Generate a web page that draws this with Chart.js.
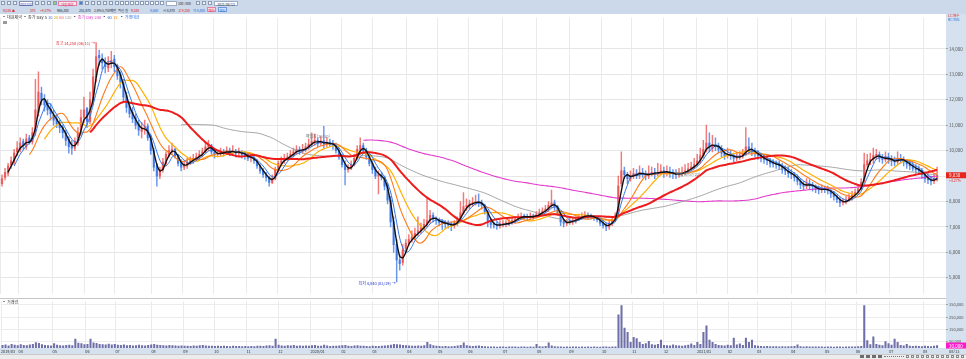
<!DOCTYPE html>
<html lang="ko">
<head>
<meta charset="utf-8">
<title>대원제약 일봉 차트</title>
<script src="https://cdn.jsdelivr.net/npm/chart.js@4.4.1/dist/chart.umd.min.js"></script>
<style>
  html, body { margin: 0; padding: 0; background: #fff; }
  body { position: relative; width: 966px; height: 359px; overflow: hidden;
         font-family: "Noto Sans CJK KR", "Noto Sans", sans-serif; font-size: 4px; line-height: 5px; color: #333; }
  .a { position: absolute; white-space: nowrap; }
  .r2 { font-size: 3.4px; letter-spacing: -0.1px; }
  .ic { position: absolute; top: 1px; width: 4px; height: 4px; border: 1px solid #8a9bb3; background: #eef3f9; box-sizing: border-box; }
  .bx { position: absolute; height: 5px; font-size: 3.4px; line-height: 5px; text-align: center; box-sizing: border-box; }
  #bar { left: 0; top: 0; width: 966px; height: 14px; background: #cbd9ea; }
  #axisPanel { left: 946px; top: 14px; width: 20px; height: 340px; background: #d5e1ee; }
  #band { left: 0; top: 348px; width: 946px; height: 6px; background: #d5e1ee; }
  #scroll { left: 0; top: 354px; width: 966px; height: 5px; background: #ececec; border-top: 1px solid #c9c9c9; box-sizing: border-box; }
  #sep { left: 0; top: 298px; width: 946px; height: 1px; background: #c6c6c6; }
  canvas { position: absolute; left: 0; }
  #priceChart { top: 14px; }
  #volChart { top: 298px; }
</style>
</head>
<body>
<div class="a" id="bar"></div>
<div class="a" id="axisPanel"></div>
<div class="a" id="band"></div>
<div class="a" id="sep"></div>
<div class="a" id="scroll"></div>
<canvas id="priceChart" width="966" height="284"></canvas>
<canvas id="volChart" width="966" height="56"></canvas>

<div class="a" style="left:2px;top:14.5px;">▪ 대원제약 ▪ 종가 Day 5 <span style="color:#2c6fe0">10</span> <span style="color:#e6a800">20</span> <span style="color:#f05a5a">60</span> <span style="color:#999">120</span> ▪ <span style="color:#e040c8">종가 Day 240</span> ▪ <span style="color:#2c6fe0">60</span> <span style="color:#ff8a00">15</span> &nbsp;▪ <span style="color:#2c6fe0">거래대금</span></div>
<div class="a" style="left:3px;top:21px;width:4px;height:3px;background:#9a9a9a;"></div>
<div class="a" style="left:948px;top:14px;font-size:3.5px;line-height:4px;color:#e0242a;">LC:매수</div>
<div class="a" style="left:948px;top:18px;font-size:3.5px;line-height:4px;color:#2c6fe0;">RC:매도</div>
<div class="a" style="left:2px;top:300px;">▪ 거래량</div>
<div class="a" style="left:949px;top:348.5px;">08/13</div>

<script>
// price pane: 2-trading-day bars, 2019/03 ~ 2021/08
const OPEN = [
  8700, 8950, 9100, 9450, 9550, 9950, 10050, 10350, 10150, 10500,
  10350, 10750, 11500, 12250, 12000, 11850, 11650, 11400, 11250, 11100,
  10900, 10700, 10450, 10200, 10100, 10300, 10750, 11300, 11650, 11150,
  11950, 12900, 13750, 13600, 13450, 13250, 13450, 13600, 13350, 13000,
  12650, 12150, 11750, 11500, 11300, 11050, 10750, 10900, 10950, 10550,
  10000, 9400, 9000, 9250, 9500, 9850, 10000, 10050, 9800, 9550,
  9350, 9400, 9550, 9600, 9700, 9750, 9850, 9950, 10150, 10200,
  9950, 9850, 9880, 9950, 9900, 10000, 9930, 9980, 9900, 9950,
  9850, 9800, 9700, 9720, 9600, 9400, 9200, 9050, 8950, 8750,
  8900, 9250, 9500, 9600, 9700, 9750, 9850, 9950, 10050, 9980,
  10050, 10150, 10250, 10350, 10400, 10280, 10380, 10250, 10300, 10280,
  10200, 10000, 9750, 9450, 9250, 9300, 9450, 9700, 10050, 10200,
  10000, 9750, 9500, 9250, 9000, 9050, 8950, 8600, 8050, 7200,
  6300, 5700, 5600, 6150, 6350, 6500, 6600, 6750, 6850, 6950,
  7100, 7250, 7450, 7300, 7250, 7180, 7150, 7120, 7080, 7050,
  7150, 7300, 7550, 7800, 7850, 7920, 7950, 8000, 7950, 7850,
  7600, 7250, 7100, 7080, 7050, 7100, 7120, 7130, 7150, 7250,
  7300, 7380, 7420, 7400, 7380, 7420, 7400, 7480, 7550, 7620,
  7700, 7850, 7950, 7800, 7550, 7200, 7150, 7180, 7220, 7250,
  7300, 7380, 7420, 7450, 7430, 7400, 7350, 7280, 7150, 7050,
  7000, 7150, 7300, 7500, 8700, 9200, 9050, 8900, 9000, 9100,
  9050, 9150, 9080, 9000, 9100, 9150, 9080, 9150, 9200, 9120,
  9180, 9100, 9080, 9050, 9100, 9130, 9200, 9280, 9350, 9450,
  9600, 9800, 10050, 10300, 10100, 10250, 10200, 10050, 9900, 9800,
  9850, 9800, 9700, 9750, 9800, 9850, 10150, 10050, 9950, 9900,
  9800, 9700, 9650, 9600, 9500, 9480, 9450, 9400, 9250, 9200,
  9100, 9050, 8950, 8800, 8650, 8600, 8700, 8650, 8580, 8480,
  8450, 8500, 8480, 8420, 8300, 8200, 8080, 7950, 7980, 8050,
  8150, 8250, 8350, 8500, 8800, 9450, 9600, 9650, 9800, 9850,
  9700, 9650, 9750, 9650, 9580, 9550, 9700, 9650, 9550, 9480,
  9400, 9300, 9250, 9200, 9050, 8900, 8850, 8800, 8870
];
const HIGH = [
  9050, 9300, 9500, 9750, 10050, 10350, 10500, 10450, 10650, 10600,
  10900, 12800, 13100, 12500, 12200, 12000, 11850, 11600, 11400, 11200,
  11000, 10800, 10550, 10400, 10500, 10900, 11600, 12100, 11700, 12300,
  13200, 14250, 13950, 13800, 13650, 13700, 13900, 13750, 13400, 13100,
  12800, 12300, 11900, 11700, 11450, 11200, 11100, 11200, 11050, 10600,
  10100, 9500, 9350, 9700, 9950, 10200, 10300, 10100, 9850, 9650,
  9600, 9700, 9750, 9850, 9900, 10000, 10100, 10350, 10400, 10250,
  10050, 10000, 10100, 10050, 10150, 10100, 10200, 10050, 10100, 10000,
  9950, 9900, 9850, 9800, 9650, 9450, 9300, 9150, 9000, 9050,
  9350, 9600, 9750, 9850, 9900, 10000, 10100, 10200, 10150, 10250,
  10300, 10450, 10700, 10650, 10500, 10550, 10950, 10500, 10450, 10400,
  10300, 10100, 9850, 9600, 9450, 9600, 9850, 10200, 10500, 10300,
  10100, 9850, 9600, 9350, 9200, 9150, 9000, 8700, 8200, 7400,
  6500, 5900, 6300, 6500, 6700, 6850, 6950, 7400, 7150, 7300,
  8100, 7650, 7550, 7400, 7350, 7300, 7250, 7250, 7200, 7250,
  7400, 8000, 8350, 8100, 8050, 8150, 8250, 8300, 8050, 7900,
  7650, 7350, 7200, 7200, 7250, 7250, 7250, 7300, 7350, 7400,
  7500, 7550, 7500, 7500, 7550, 7500, 7600, 7700, 7750, 7850,
  8000, 8450, 8050, 7850, 7600, 7300, 7300, 7350, 7350, 7400,
  7500, 7550, 7600, 7550, 7500, 7450, 7400, 7350, 7250, 7150,
  7250, 7400, 7550, 9000, 9950, 9350, 9150, 9200, 9300, 9250,
  9400, 9300, 9200, 9400, 9350, 9300, 9500, 9450, 9350, 9400,
  9350, 9250, 9250, 9300, 9350, 9450, 9500, 9550, 9700, 9850,
  10100, 10400, 11000, 10700, 10600, 10500, 10300, 10200, 10050, 10100,
  10000, 9900, 9900, 9950, 10050, 10900, 10500, 10300, 10100, 10000,
  9900, 9850, 9800, 9700, 9650, 9600, 9600, 9500, 9400, 9350,
  9250, 9150, 9050, 8900, 8800, 8900, 8850, 8750, 8650, 8600,
  8650, 8600, 8600, 8500, 8400, 8250, 8150, 8100, 8200, 8300,
  8400, 8500, 8650, 8900, 9900, 9850, 9900, 10100, 10050, 9950,
  9850, 9950, 9900, 9800, 9750, 9950, 9850, 9750, 9650, 9600,
  9550, 9450, 9400, 9300, 9150, 9050, 9000, 9100, 9350
];
const LOW = [
  8600, 8850, 9000, 9300, 9450, 9800, 9950, 10050, 10050, 10250,
  10250, 10600, 11350, 11800, 11550, 11400, 11200, 11000, 10900, 10700,
  10500, 10200, 9900, 9850, 10000, 10200, 10600, 11100, 10900, 11050,
  11800, 12700, 13350, 13200, 13050, 13100, 13250, 13100, 12800, 12450,
  11950, 11500, 11300, 11100, 10850, 10600, 10500, 10650, 10400, 9850,
  9200, 8600, 8900, 9150, 9400, 9750, 9850, 9700, 9400, 9200,
  9250, 9300, 9450, 9500, 9600, 9650, 9750, 9900, 10000, 9850,
  9700, 9750, 9800, 9780, 9850, 9800, 9850, 9750, 9800, 9700,
  9650, 9600, 9550, 9500, 9300, 9100, 8950, 8800, 8600, 8700,
  8850, 9150, 9400, 9500, 9600, 9650, 9750, 9850, 9850, 9900,
  9950, 10050, 10150, 10200, 10150, 10200, 10100, 10150, 10150, 10050,
  9900, 9650, 9350, 8650, 9150, 9250, 9400, 9650, 9950, 9900,
  9650, 9400, 9100, 8900, 8300, 8850, 8450, 7900, 7000, 6000,
  4840, 5300, 5500, 6000, 6250, 6400, 6500, 6650, 6750, 6900,
  7000, 7150, 7200, 7100, 7050, 6900, 6950, 6950, 6850, 6950,
  7050, 7250, 7500, 7650, 7700, 7800, 7850, 7800, 7700, 7500,
  7000, 6950, 6950, 6900, 6950, 7000, 7000, 7050, 7100, 7150,
  7250, 7300, 7300, 7280, 7300, 7300, 7350, 7400, 7450, 7550,
  7600, 7750, 7650, 7450, 7050, 7000, 7050, 7100, 7100, 7150,
  7250, 7300, 7350, 7300, 7300, 7250, 7200, 7050, 6950, 6850,
  6900, 7050, 7250, 7450, 8600, 8900, 8700, 8800, 8900, 8900,
  8900, 8950, 8850, 8900, 9000, 8900, 9000, 9050, 8950, 9000,
  8950, 8900, 8900, 8950, 9000, 9050, 9100, 9200, 9300, 9400,
  9500, 9700, 9950, 9950, 9950, 10000, 9900, 9750, 9650, 9700,
  9650, 9550, 9600, 9650, 9700, 9800, 9900, 9800, 9750, 9650,
  9550, 9500, 9450, 9350, 9350, 9300, 9250, 9100, 9050, 8950,
  8900, 8800, 8650, 8500, 8450, 8500, 8500, 8400, 8350, 8300,
  8350, 8350, 8300, 8150, 8050, 7950, 7800, 7850, 7900, 8000,
  8050, 8150, 8300, 8450, 8750, 9350, 9450, 9500, 9650, 9550,
  9500, 9550, 9500, 9400, 9400, 9450, 9500, 9400, 9300, 9250,
  9200, 9100, 9050, 8900, 8750, 8700, 8650, 8700, 8800
];
const CLOSE = [
  8900, 9150, 9400, 9600, 9900, 10100, 10300, 10200, 10450, 10350,
  10700, 11600, 12300, 12000, 11800, 11600, 11450, 11200, 11050, 10900,
  10700, 10400, 10150, 10100, 10350, 10700, 11300, 11600, 11150, 12000,
  12900, 13700, 13650, 13450, 13300, 13450, 13550, 13300, 12950, 12700,
  12100, 11700, 11450, 11250, 11000, 10800, 10850, 10900, 10500, 10000,
  9350, 9000, 9250, 9550, 9850, 10000, 10050, 9800, 9500, 9350,
  9450, 9550, 9600, 9700, 9750, 9850, 9950, 10150, 10200, 9950,
  9830, 9880, 9950, 9900, 10000, 9930, 9980, 9900, 9950, 9850,
  9800, 9700, 9720, 9600, 9400, 9200, 9050, 8950, 8750, 8900,
  9250, 9500, 9600, 9700, 9750, 9850, 9950, 10050, 9980, 10050,
  10150, 10250, 10350, 10400, 10280, 10380, 10250, 10300, 10280, 10200,
  10000, 9750, 9450, 9250, 9300, 9450, 9700, 10050, 10200, 10000,
  9750, 9500, 9250, 9000, 9050, 8950, 8600, 8050, 7200, 6300,
  5700, 5550, 6100, 6350, 6500, 6600, 6750, 6850, 6950, 7100,
  7250, 7450, 7300, 7250, 7180, 7150, 7120, 7080, 7050, 7150,
  7300, 7550, 7800, 7850, 7920, 7950, 8000, 7950, 7850, 7600,
  7250, 7100, 7080, 7050, 7100, 7120, 7130, 7150, 7250, 7300,
  7380, 7420, 7400, 7380, 7420, 7400, 7480, 7550, 7620, 7700,
  7850, 7950, 7800, 7550, 7200, 7150, 7180, 7220, 7250, 7300,
  7380, 7420, 7450, 7430, 7400, 7350, 7280, 7150, 7050, 7000,
  7150, 7300, 7450, 8600, 9200, 9050, 8900, 9000, 9100, 9050,
  9150, 9080, 9000, 9100, 9150, 9080, 9150, 9200, 9120, 9180,
  9100, 9080, 9050, 9100, 9130, 9200, 9280, 9350, 9450, 9600,
  9800, 10050, 10300, 10100, 10250, 10200, 10050, 9900, 9800, 9850,
  9800, 9700, 9750, 9800, 9850, 10150, 10050, 9950, 9900, 9800,
  9700, 9650, 9600, 9500, 9480, 9450, 9400, 9250, 9200, 9100,
  9050, 8950, 8800, 8650, 8600, 8700, 8650, 8580, 8480, 8450,
  8500, 8480, 8420, 8300, 8200, 8080, 7950, 7980, 8050, 8150,
  8250, 8350, 8500, 8750, 9450, 9600, 9650, 9800, 9850, 9700,
  9650, 9750, 9650, 9580, 9550, 9700, 9650, 9550, 9480, 9400,
  9300, 9250, 9200, 9050, 8900, 8850, 8800, 8870, 9030
];
// volume in thousand shares
const VOLUME_K = [
  22, 25, 18, 30, 24, 20, 28, 22, 19, 26,
  30, 45, 38, 28, 22, 20, 18, 35, 24, 20,
  18, 22, 24, 20, 73, 40, 35, 28, 30, 73,
  42, 38, 30, 28, 25, 32, 26, 30, 24, 22,
  25, 20, 22, 18, 20, 24, 20, 18, 22, 26,
  30, 24, 22, 20, 18, 22, 20, 18, 16, 18,
  15, 16, 14, 18, 15, 20, 22, 18, 16, 15,
  14, 15, 13, 16, 14, 12, 15, 13, 14, 12,
  13, 12, 14, 12, 15, 16, 14, 18, 20, 16,
  73, 24, 18, 16, 20, 18, 22, 16, 18, 15,
  18, 16, 20, 22, 15, 16, 24, 18, 14, 16,
  15, 18, 20, 22, 16, 14, 18, 20, 16, 15,
  14, 12, 15, 13, 14, 16, 18, 20, 24, 30,
  28, 26, 22, 20, 18, 16, 15, 18, 16, 20,
  47, 28, 20, 16, 14, 12, 13, 12, 11, 14,
  18, 22, 42, 20, 16, 14, 16, 18, 14, 12,
  10, 9, 10, 8, 9, 10, 8, 9, 10, 9,
  8, 9, 10, 8, 9, 8, 29, 12, 10, 14,
  41, 18, 12, 10, 9, 8, 9, 8, 10, 9,
  8, 9, 8, 10, 8, 9, 8, 7, 9, 10,
  8, 9, 10, 270, 344, 162, 127, 47, 86, 76,
  47, 30, 35, 55, 28, 24, 30, 65, 22, 20,
  18, 26, 20, 18, 16, 20, 24, 34, 22, 47,
  30, 128, 180, 65, 47, 30, 22, 20, 18, 24,
  20, 80, 26, 34, 22, 80, 47, 65, 20, 16,
  14, 12, 13, 12, 11, 12, 10, 11, 10, 12,
  11, 14, 26, 12, 10, 11, 9, 10, 9, 10,
  9, 8, 10, 9, 8, 9, 10, 8, 9, 10,
  9, 10, 12, 14, 344, 60, 28, 90, 30, 24,
  20, 52, 35, 24, 73, 47, 22, 18, 29, 16,
  14, 16, 13, 12, 15, 14, 12, 16, 20
];
// month starts, in bar units
const MONTH_POS = [-0.5, 5.3, 16.5, 27.3, 37.2, 49.1, 59.6, 69.8, 80.4, 90.9,
  101.5, 111.7, 121.9, 133.4, 143.6, 153.5, 165.0, 176.2, 186.8, 197.6, 207.5, 218.0,
  228.9, 239.1, 248.7, 259.9, 271.1, 281.3, 292.2, 303.4];
const MONTH_LABELS = ['2019/03', '04', '05', '06', '07', '08', '09', '10', '11', '12',
  '2020/01', '02', '03', '04', '05', '06', '07', '08', '09', '10', '11', '12',
  '2021/01', '02', '03', '04', '05', '06', '07', '08'];
const PRICE_TICKS = [5000, 6000, 7000, 8000, 9000, 10000, 11000, 12000, 13000, 14000];
const VOL_TICKS_K = [50, 100, 150, 200, 250, 300, 350];
// moving averages, periods in bars (1 bar = 2 days: 5/10/20/30/60/120/240 days)
const MA_BARS = [3, 5, 10, 15, 30, 60, 120];
const HIGH_DATE = '06/11', LOW_DATE = '03/19';
const PREV_CLOSE_CHANGE = '+4.27%';

const N = CLOSE.length;
const UP = 'rgba(236,70,70,0.72)', DOWN = 'rgba(46,110,230,0.72)';
const FONT = '"Noto Sans CJK KR", "Noto Sans", sans-serif';
const fmt = v => Math.round(v).toLocaleString('en-US');
const isUp = i => CLOSE[i] >= OPEN[i];

function sma(src, n) {
    return src.map((_, i) => {
        if (i < n - 1) return null;
        let s = 0;
        for (let k = i - n + 1; k <= i; k++) s += src[k];
        return s / n;
    });
}

function buildToolbar() {
    const bar = document.getElementById('bar');
    let html = '';
    [1, 7, 13, 35, 41, 47].forEach(x => { html += `<span class="ic" style="left:${x}px"></span>`; });
    html += '<span class="bx" style="left:19px;top:1px;width:14px;background:#fff;border:1px solid #7f93b0;color:#1a3fbf;">003220</span>';
    html += '<span class="ic" style="left:53px;background:#9ccc65"></span>';
    html += '<span class="bx" style="left:58px;top:1px;width:19px;background:#fde6ef;border:1px solid #e57fa6;color:#d0306a;">대원제약</span>';
    html += '<span class="ic" style="left:79px;background:#3f7fd8"></span>';
    for (let x = 85; x < 118; x += 6) html += `<span class="ic" style="left:${x}px"></span>`;
    for (let x = 120; x < 165; x += 5) html += `<span class="ic" style="left:${x}px;background:#fff"></span>`;
    html += '<span class="bx" style="left:166px;top:1px;width:11px;background:#fff;border:1px solid #9aabc3;"></span>';
    html += '<span class="a r2" style="left:178px;top:0.5px;">100 /500</span>';
    [196, 202, 208].forEach(x => { html += `<span class="ic" style="left:${x}px"></span>`; });
    html += '<span class="bx" style="left:214px;top:1px;width:24px;background:#fff;border:1px solid #9aabc3;">2021/08/13</span>';
    const red = 'color:#e0242a', blue = 'color:#2c6fe0';
    const row2 = [
        [3, '9,030 ▲', red], [30, '370', red], [40, '+4.27%', red], [57, '966,300', ''],
        [79, '252,870', ''], [94, '2.8%', ''], [102, '5,750백만', ''], [118, '최신 원', ''],
        [131, '9,030', red], [150, '8,660', blue], [163, '시 8,870', ''], [178, '고 9,350', red],
        [193, '저 8,800', blue]
    ];
    row2.forEach(([x, t, c]) => { html += `<span class="a r2" style="left:${x}px;top:7.5px;${c}">${t}</span>`; });
    html += '<span class="bx" style="left:207px;top:7px;width:9px;background:#fbd5e0;border:1px solid #e57fa6;color:#d0306a;">매수</span>';
    html += '<span class="bx" style="left:218px;top:7px;width:9px;background:#d6e4fb;border:1px solid #6f9ae0;color:#2c6fe0;">매도</span>';
    bar.innerHTML = html;

    const sc = document.getElementById('scroll');
    let s = '';
    [860, 866, 872, 878].forEach(x => { s += `<span class="a" style="left:${x}px;top:0;width:4px;height:3px;background:#6d6d6d;"></span>`; });
    s += '<span class="a" style="left:884px;top:1px;width:20px;height:1px;border-top:1px dotted #777;"></span>';
    for (let x = 906; x < 962; x += 5) s += `<span class="a" style="left:${x}px;top:0;width:3px;height:3px;border:1px solid #8a8a8a;box-sizing:border-box;"></span>`;
    sc.innerHTML = s;
}

const xTicks = s => { s.ticks = MONTH_POS.map(v => ({ value: v })); };
const X_MIN = -0.66, X_MAX = 310.94;

// value tag in the right-hand axis column
function tag(chart, value, fill, text) {
    const { ctx, chartArea, scales: { y } } = chart;
    const yy = y.getPixelForValue(value);
    ctx.save();
    ctx.fillStyle = fill;
    ctx.fillRect(chartArea.right, yy - 3, chart.width - chartArea.right, 6);
    ctx.fillStyle = '#fff';
    ctx.font = `4.5px ${FONT}`;
    ctx.textBaseline = 'middle';
    ctx.fillText(text, chartArea.right + 3, yy + 0.3);
    ctx.restore();
    return yy;
}

const priceNotes = {
    id: 'priceNotes',
    afterDatasetsDraw(chart) {
        const { ctx, scales: { x, y } } = chart;
        const hi = HIGH.indexOf(Math.max(...HIGH));
        const lo = LOW.indexOf(Math.min(...LOW));
        ctx.save();
        ctx.font = `4px ${FONT}`;
        ctx.textBaseline = 'middle';
        ctx.textAlign = 'right';
        ctx.fillStyle = '#e0242a';
        ctx.fillText(`최고 ${fmt(HIGH[hi])} (${HIGH_DATE}) →`, x.getPixelForValue(hi) - 1, y.getPixelForValue(HIGH[hi]) + 1);
        ctx.fillStyle = '#2535d0';
        ctx.fillText(`최저 ${fmt(LOW[lo])} (${LOW_DATE}) →`, x.getPixelForValue(lo) - 1, y.getPixelForValue(LOW[lo]) + 2);
        ctx.textAlign = 'center';
        ctx.fillStyle = '#777';
        ctx.fillText('매집봉(10/30)', x.getPixelForValue(104), y.getPixelForValue(10560));
        ctx.fillText('매집봉(07/22)', x.getPixelForValue(226), y.getPixelForValue(9080));
        ctx.restore();
    },
    afterDraw(chart) {
        const yy = tag(chart, CLOSE[N - 1], '#e8241c', fmt(CLOSE[N - 1]));
        const { ctx, chartArea } = chart;
        ctx.save();
        ctx.font = `3.5px ${FONT}`;
        ctx.fillStyle = '#e0242a';
        ctx.textBaseline = 'middle';
        ctx.fillText(PREV_CLOSE_CHANGE, chartArea.right + 3, yy + 5.5);
        ctx.restore();
    }
};

const volNotes = {
    id: 'volNotes',
    afterDraw(chart) { tag(chart, VOLUME_K[N - 1], '#ff19c8', fmt(VOLUME_K[N - 1] * 1000)); }
};

function init() {
    buildToolbar();
    const idx = CLOSE.map((_, i) => i);
    const maColors = ['#111111', '#2f74e6', '#ff7a1a', '#ffb000', '#ee1c1c', '#9a9a9a', '#e23ccc'];
    const maWidths = [1.4, 1, 1.1, 1.2, 2, 0.9, 1.1];
    const maOrder = [1, 4, 5, 6, 3, 7, 8];

    const maSets = MA_BARS.map((n, k) => {
        const m = sma(CLOSE, n);
        return {
            type: 'line',
            data: idx.map(i => ({ x: i, y: m[i] })),
            borderColor: maColors[k],
            borderWidth: maWidths[k],
            pointRadius: 0,
            tension: 0.25,
            order: maOrder[k]
        };
    });

    new Chart(document.getElementById('priceChart'), {
        type: 'bar',
        data: {
            datasets: [
                {
                    data: idx.map(i => ({ x: i, y: [LOW[i], HIGH[i]] })),
                    backgroundColor: c => isUp(c.dataIndex) ? UP : DOWN,
                    barThickness: 0.8, grouped: false, order: 20
                },
                {
                    data: idx.map(i => ({ x: i, y: [OPEN[i], CLOSE[i]] })),
                    backgroundColor: c => isUp(c.dataIndex) ? UP : DOWN,
                    barThickness: 1.6, minBarLength: 1, grouped: false, order: 19
                },
                ...maSets
            ]
        },
        options: {
            responsive: false, animation: false,
            layout: { padding: 0 },
            plugins: { legend: { display: false }, tooltip: { enabled: false } },
            scales: {
                x: {
                    type: 'linear', min: X_MIN, max: X_MAX, offset: false,
                    afterBuildTicks: xTicks,
                    afterFit: s => { s.height = 0; },
                    ticks: { display: false },
                    grid: { color: '#ebebeb', drawTicks: false, offset: false },
                    border: { display: false }
                },
                y: {
                    position: 'right', min: 4350, max: 15225,
                    afterBuildTicks: s => { s.ticks = PRICE_TICKS.map(v => ({ value: v })); },
                    afterFit: s => { s.width = 20; },
                    ticks: { font: { size: 4.5, family: FONT }, color: '#555', padding: 1, callback: v => fmt(v) },
                    grid: { color: '#e6e6e6', tickLength: 2, tickColor: '#9aa' },
                    border: { display: false }
                }
            }
        },
        plugins: [priceNotes]
    });

    new Chart(document.getElementById('volChart'), {
        type: 'bar',
        data: {
            datasets: [{
                data: idx.map(i => ({ x: i, y: VOLUME_K[i] })),
                backgroundColor: '#6e6ea8',
                barThickness: 1.4, grouped: false
            }]
        },
        options: {
            responsive: false, animation: false,
            layout: { padding: { top: 1 } },
            plugins: { legend: { display: false }, tooltip: { enabled: false } },
            scales: {
                x: {
                    type: 'linear', min: X_MIN, max: X_MAX, offset: false,
                    afterBuildTicks: xTicks,
                    afterFit: s => { s.height = 6; },
                    ticks: {
                        font: { size: 3.8, family: FONT }, color: '#333', padding: 1,
                        align: 'start', autoSkip: false, maxRotation: 0,
                        callback: (v, i) => MONTH_LABELS[i]
                    },
                    grid: { color: '#ebebeb', drawTicks: false, offset: false },
                    border: { display: false }
                },
                y: {
                    position: 'right', min: 0, max: 378.6,
                    afterBuildTicks: s => { s.ticks = VOL_TICKS_K.map(v => ({ value: v })); },
                    afterFit: s => { s.width = 20; },
                    ticks: { font: { size: 4, family: FONT }, color: '#555', padding: 1, callback: v => fmt(v * 1000) },
                    grid: { color: '#ececec', tickLength: 2, tickColor: '#9aa' },
                    border: { display: false }
                }
            }
        },
        plugins: [volNotes]
    });
}

if (document.readyState === 'loading') document.addEventListener('DOMContentLoaded', init); else init();
</script>
</body>
</html>
